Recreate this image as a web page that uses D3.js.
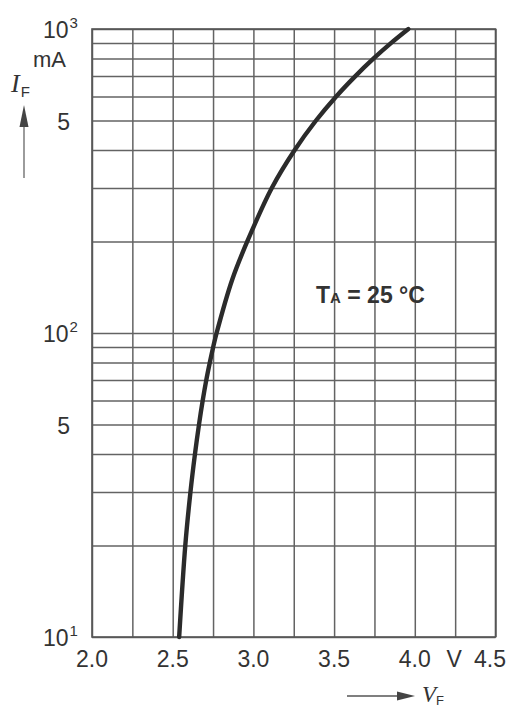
<!DOCTYPE html>
<html>
<head>
<meta charset="utf-8">
<script src="https://cdn.jsdelivr.net/npm/d3@7"></script>
<style>
  html, body { margin: 0; padding: 0; background: #fff; }
  svg { display: block; }
  text { font-family: "Liberation Sans", Arial, Helvetica, sans-serif; fill: #333; }
</style>
</head>
<body>
<svg id="chart" width="515" height="709"></svg>
<script>
// Forward characteristic I_F(V_F) of the LED at T_A = 25 °C
const forwardCurrent = [10, 20, 30, 40, 50, 60, 70, 80, 90, 100, 150, 200, 300, 400, 500, 600, 700, 800, 900, 1000]; // mA
const forwardVoltage = [2.540, 2.578, 2.610, 2.638, 2.663, 2.686, 2.708, 2.730, 2.751, 2.772, 2.869, 2.962, 3.114, 3.256, 3.388, 3.513, 3.632, 3.745, 3.854, 3.960]; // V

// Grid and tick labels
const voltageGrid = [2.0, 2.25, 2.5, 2.75, 3.0, 3.25, 3.5, 3.75, 4.0, 4.25, 4.5];
const voltageLabels = [2.0, 2.5, 3.0, 3.5, 4.0, 4.5];
const voltageUnitAt = 4.25;
const currentGrid = [10, 20, 30, 40, 50, 60, 70, 80, 90, 100, 200, 300, 400, 500, 600, 700, 800, 900, 1000];
const decadeLabels = [10, 100, 1000];
const decadeExponents = ["1", "2", "3"];
const midLabels = [50, 500];

const svg = d3.select("#chart");
const plotLeft = 92, plotRight = 495.5, plotTop = 29, plotBottom = 637;

const x = d3.scaleLinear().domain([2.0, 4.5]).range([plotLeft, plotRight]);
const y = d3.scaleLog().domain([10, 1000]).range([plotBottom, plotTop]);

const gridColor = "#636363";

// vertical grid lines
svg.append("g")
  .attr("transform", `translate(0,${plotBottom})`)
  .call(d3.axisBottom(x).tickValues(voltageGrid).tickSize(-(plotBottom - plotTop)).tickFormat(""))
  .call(g => g.select(".domain").remove())
  .call(g => g.selectAll(".tick line").attr("stroke", gridColor).attr("stroke-width", 1.5));

// horizontal grid lines
svg.append("g")
  .attr("transform", `translate(${plotLeft},0)`)
  .call(d3.axisLeft(y).tickValues(currentGrid).tickSize(-(plotRight - plotLeft)).tickFormat(""))
  .call(g => g.select(".domain").remove())
  .call(g => g.selectAll(".tick line").attr("stroke", gridColor).attr("stroke-width", 1.5));

// frame
svg.append("rect")
  .attr("x", plotLeft).attr("y", plotTop)
  .attr("width", plotRight - plotLeft).attr("height", plotBottom - plotTop)
  .attr("fill", "none").attr("stroke", "#555").attr("stroke-width", 1.6);

// characteristic curve
const line = d3.line()
  .x((d, i) => x(forwardVoltage[i]))
  .y(d => y(d))
  .curve(d3.curveCatmullRom.alpha(0.5));

svg.append("path")
  .datum(forwardCurrent)
  .attr("d", line)
  .attr("fill", "none")
  .attr("stroke", "#2b2b2b")
  .attr("stroke-width", 4.4)
  .attr("stroke-linecap", "round");

// x tick labels
svg.append("g").selectAll("text")
  .data(voltageLabels)
  .join("text")
  .attr("x", d => Math.min(x(d), 490))
  .attr("y", 667)
  .attr("text-anchor", "middle")
  .attr("font-size", 23)
  .text(d => d.toFixed(1));

svg.append("text")
  .attr("x", x(voltageUnitAt) - 1)
  .attr("y", 667)
  .attr("text-anchor", "middle")
  .attr("font-size", 23)
  .text("V");

// y decade labels 10^n
const dec = svg.append("g").selectAll("text")
  .data(decadeLabels)
  .join("text")
  .attr("x", 43)
  .attr("y", d => y(d) + 9)
  .attr("font-size", 23);
dec.append("tspan").text("10");
dec.append("tspan")
  .attr("dx", 1)
  .attr("dy", -10)
  .attr("font-size", 15)
  .text((d, i) => decadeExponents[i]);

// y mid-decade labels
svg.append("g").selectAll("text")
  .data(midLabels)
  .join("text")
  .attr("x", 70)
  .attr("y", d => y(d) + 9)
  .attr("text-anchor", "end")
  .attr("font-size", 23)
  .text("5");

// unit and quantity on the y side
svg.append("text").attr("x", 33).attr("y", 67).attr("font-size", 22).text("mA");

const iF = svg.append("text").attr("x", 11).attr("y", 92);
iF.append("tspan")
  .attr("font-family", "'Liberation Serif', 'Times New Roman', serif")
  .attr("font-style", "italic")
  .attr("font-size", 26)
  .text("I");
iF.append("tspan").attr("dx", 1).attr("dy", 5).attr("font-size", 15).text("F");

// upward arrow
svg.append("line")
  .attr("x1", 24).attr("y1", 178).attr("x2", 24).attr("y2", 118)
  .attr("stroke", "#666").attr("stroke-width", 1.3);
svg.append("path")
  .attr("d", "M24,105 L19.5,127 L28.5,127 Z")
  .attr("fill", "#444");

// rightward arrow and V_F
svg.append("line")
  .attr("x1", 347).attr("y1", 696).attr("x2", 402).attr("y2", 696)
  .attr("stroke", "#555").attr("stroke-width", 1.3);
svg.append("path")
  .attr("d", "M415,696 L397,691.5 L397,700.5 Z")
  .attr("fill", "#444");

const vF = svg.append("text").attr("x", 422).attr("y", 702);
vF.append("tspan")
  .attr("font-family", "'Liberation Serif', 'Times New Roman', serif")
  .attr("font-style", "italic")
  .attr("font-size", 23)
  .text("V");
vF.append("tspan").attr("dx", 0).attr("dy", 3).attr("font-size", 13).text("F");

// temperature annotation
const ta = svg.append("text")
  .attr("x", 316).attr("y", 303)
  .attr("font-weight", "bold")
  .attr("font-size", 23);
ta.append("tspan").text("T");
ta.append("tspan").attr("font-size", 15).text("A");
ta.append("tspan").text(" = 25 °C");
</script>
</body>
</html>
